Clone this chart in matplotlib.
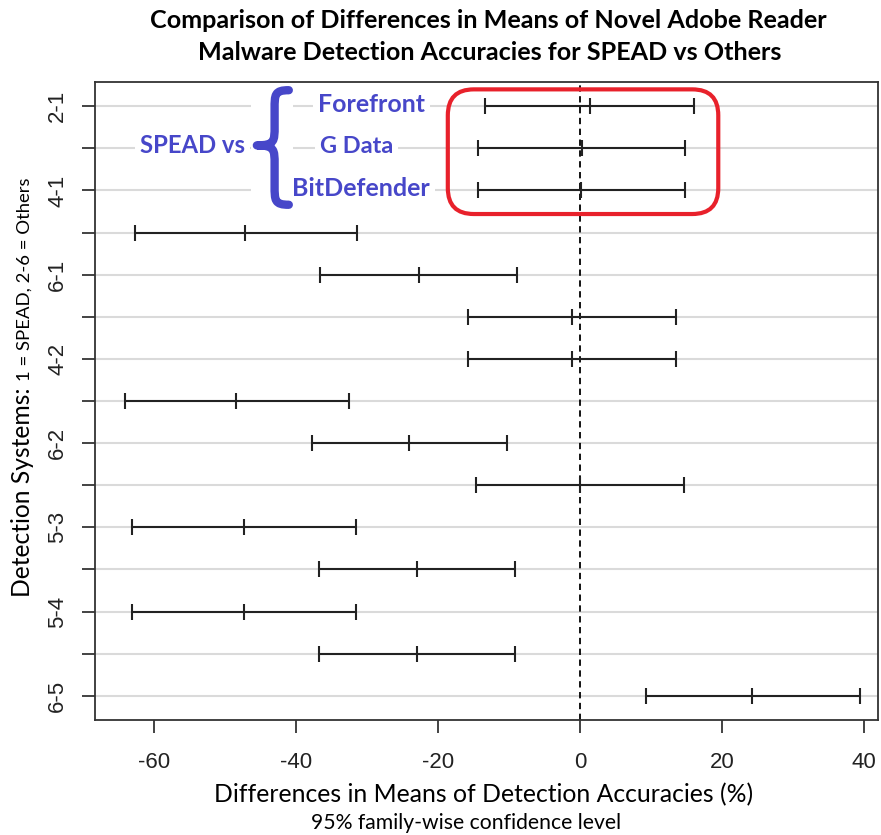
import matplotlib
matplotlib.use("Agg")
import matplotlib.pyplot as plt
from matplotlib.patches import FancyBboxPatch, PathPatch, Rectangle
from matplotlib.path import Path

# Tukey HSD comparisons
comparisons = ["2-1", "3-1", "4-1", "5-1", "6-1", "3-2", "4-2", "5-2",
               "6-2", "4-3", "5-3", "6-3", "5-4", "6-4", "6-5"]
diff = [1.5, 0.25, 0.15, -47.2, -22.7, -1.1, -1.1, -48.4,
        -24.0, 0.05, -47.3, -23.0, -47.3, -23.0, 24.3]
lwr = [-13.3, -14.3, -14.3, -62.7, -36.6, -15.75, -15.75, -64.1,
       -37.8, -14.6, -63.1, -36.8, -63.1, -36.8, 9.35]
upr = [16.1, 14.85, 14.85, -31.4, -8.9, 13.6, 13.6, -32.5,
       -10.3, 14.7, -31.6, -9.1, -31.6, -9.1, 39.5]
xticks = [-60, -40, -20, 0, 20, 40]
highlighted = ["Forefront", "G Data", "BitDefender"]

BLUE = "#4747C9"
RED = "#E8212B"
TEXT_FONT = ["Lato", "DejaVu Sans"]
TICK_FONT = ["Liberation Sans", "DejaVu Sans"]

W, H = 881, 835
fig = plt.figure(figsize=(W / 100, H / 100), dpi=100)
ax = fig.add_axes([95 / W, 1 - 720 / H, (878 - 95) / W, (720 - 82) / H])
renderer = fig.canvas.get_renderer()


def fit(txt, target_px, vertical=False):
    """Scale a text's font size so its drawn extent matches target_px."""
    bb = txt.get_window_extent(renderer)
    cur = bb.height if vertical else bb.width
    txt.set_fontsize(txt.get_fontsize() * target_px / cur)


n = len(comparisons)
y = [n - i for i in range(n)]

ax.set_xlim(-68.3, 42.0)
ax.set_ylim(0.425, n + 0.575)

# horizontal guides at every comparison
ax.hlines(y, -68.3, 42.0, color="#DADADA", lw=1.5, zorder=0)
ax.axvline(0, color="black", lw=1.3, ls=(0, (3.5, 2.5)), zorder=2)

ax.hlines(y, lwr, upr, color="#222222", lw=1.5, zorder=3)
for vals in (lwr, diff, upr):
    ax.plot(vals, y, ls="none", marker="|", ms=11, mew=1.5,
            color="#222222", zorder=3)

ax.set_xticks(xticks)
ax.set_xticklabels([str(t) for t in xticks], family=TICK_FONT, fontsize=16)
ax.set_yticks(y)
ax.set_yticklabels([c if i % 2 == 0 else "" for i, c in enumerate(comparisons)],
                   family=TICK_FONT, fontsize=16, rotation=90, va="center")
ax.tick_params(axis="x", length=9.4, width=1.2, pad=14, colors="#222222")
ax.tick_params(axis="y", length=9.4, width=1.2, pad=10, colors="#222222")
for sp in ax.spines.values():
    sp.set_linewidth(1.3)
    sp.set_color("#333333")

# titles and axis labels
t1 = fig.text(488 / W, 1 - 20 / H,
              "Comparison of Differences in Means of Novel Adobe Reader",
              family=TEXT_FONT, weight="bold", fontsize=16,
              ha="center", va="center")
fit(t1, 680)
fig.text(490 / W, 1 - 52 / H,
         "Malware Detection Accuracies for SPEAD vs Others",
         family=TEXT_FONT, weight="bold", fontsize=t1.get_fontsize(),
         ha="center", va="center")

xl = fig.text(484 / W, 1 - 795 / H,
              "Differences in Means of Detection Accuracies (%)",
              family=TEXT_FONT, fontsize=18, ha="center", va="center")
fit(xl, 538)
sub = fig.text(466 / W, 1 - 823 / H, "95% family-wise confidence level",
               family=TEXT_FONT, fontsize=14, ha="center", va="center")
fit(sub, 310)

yl1 = fig.text(29.5 / W, 1 - 597 / H, "Detection Systems:",
               family=TEXT_FONT, fontsize=17, rotation=90,
               rotation_mode="anchor", ha="left", va="baseline")
fit(yl1, 210, vertical=True)
yl2 = fig.text(29.5 / W, 1 - 381 / H, "1 = SPEAD, 2-6 = Others",
               family=TEXT_FONT, fontsize=14, rotation=90,
               rotation_mode="anchor", ha="left", va="baseline")
fit(yl2, 203, vertical=True)

# "SPEAD vs { ... }" annotation
box = dict(boxstyle="square,pad=0.2", fc="white", ec="none")
lbl_x = [-29.4, -31.5, -30.8]
lbl_w = [107, 73, 138]
for name, xx, yy, wpx in zip(highlighted, lbl_x, y[:3], lbl_w):
    t = ax.text(xx, yy + 0.05, name, color=BLUE, family=TEXT_FONT,
                weight="bold", fontsize=17, ha="center", va="center",
                bbox=box, zorder=5)
    fit(t, wpx)
sv = ax.text(-54.6, y[1] + 0.07, "SPEAD vs", color=BLUE, family=TEXT_FONT,
             weight="bold", fontsize=17, ha="center", va="center",
             bbox=box, zorder=5)
fit(sv, 105)

ax.add_patch(Rectangle((-46.3, 12.55), 5.9, 2.9, fc="white", ec="none",
                       zorder=4))
xt, xs, xe = -45.5, -43.0, -41.0
yt, yc, yb = 15.38, 14.07, 12.66
verts = [(xe, yt), (xs, yt), (xs, yt - 0.1), (xs, yt - 0.45),
         (xs, yc + 0.45),
         (xs, yc + 0.1), (xs, yc), (xt, yc),
         (xs, yc), (xs, yc - 0.1), (xs, yc - 0.45),
         (xs, yb + 0.45),
         (xs, yb + 0.1), (xs, yb), (xe, yb)]
codes = [Path.MOVETO, Path.CURVE4, Path.CURVE4, Path.CURVE4, Path.LINETO,
         Path.CURVE4, Path.CURVE4, Path.CURVE4,
         Path.CURVE4, Path.CURVE4, Path.CURVE4, Path.LINETO,
         Path.CURVE4, Path.CURVE4, Path.CURVE4]
ax.add_patch(PathPatch(Path(verts, codes), fc="none", ec=BLUE, lw=6,
                       capstyle="round", joinstyle="round", zorder=6))

# red rounded box around the SPEAD comparisons
rx = 26 / 7.1
ax.add_patch(FancyBboxPatch((-18.6, 12.44), 38.1, 2.96,
                            boxstyle=f"round,pad=0,rounding_size={rx}",
                            mutation_aspect=(26 / 42.12) / rx,
                            fc="none", ec=RED, lw=3, zorder=6))

fig.savefig("out.png", dpi=100)
